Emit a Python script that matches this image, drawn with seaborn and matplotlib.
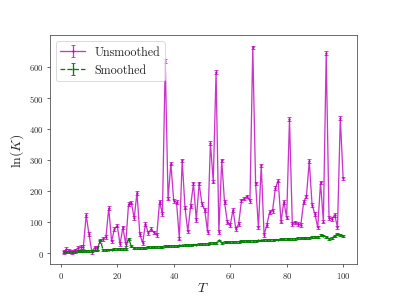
import numpy as np
import matplotlib
matplotlib.use("Agg")
import matplotlib.pyplot as plt
import seaborn as sns

# time steps
T = np.arange(1, 101)

# unsmoothed ln(K)
unsmoothed = [3, 12, 8, 4, 8, 15, 18, 18, 122, 60,
              4, 17, 17, 38, 45, 51, 144, 37, 77, 88,
              28, 82, 28, 157, 162, 112, 194, 60, 32, 94,
              64, 77, 66, 58, 165, 125, 618, 175, 288, 168,
              163, 46, 298, 146, 69, 152, 224, 106, 224, 158,
              138, 67, 354, 230, 582, 67, 298, 163, 100, 89,
              139, 77, 93, 169, 175, 182, 168, 662, 224, 82,
              282, 58, 91, 132, 136, 208, 233, 101, 165, 114,
              432, 93, 98, 93, 89, 163, 182, 296, 155, 125,
              82, 227, 101, 643, 112, 109, 123, 82, 434, 240]

# smoothed ln(K)
smoothed = [2, 3, 3, 4, 4, 5, 5, 6, 6, 7,
            7, 8, 8, 40, 10, 10, 11, 11, 12, 12,
            13, 13, 14, 46, 22, 15, 16, 16, 17, 17,
            18, 18, 19, 19, 20, 20, 21, 21, 22, 23,
            23, 24, 24, 25, 26, 26, 27, 27, 28, 29,
            29, 30, 31, 31, 32, 40, 33, 34, 34, 35,
            35, 36, 36, 37, 37, 38, 38, 39, 39, 40,
            40, 41, 41, 42, 42, 43, 43, 44, 44, 45,
            45, 46, 46, 47, 47, 48, 48, 49, 50, 51,
            52, 58, 56, 52, 46, 48, 54, 62, 58, 54]

err_unsmoothed = [6] * len(T)
err_smoothed = [3] * len(T)

sns.set_style("ticks")
plt.rcParams['font.family'] = ['cmr10', 'DejaVu Serif']
plt.rcParams['mathtext.fontset'] = 'cm'
plt.rcParams['axes.formatter.use_mathtext'] = True
plt.rcParams['axes.unicode_minus'] = False

fig, ax = plt.subplots(figsize=(6.4, 4.8), dpi=62)

ax.errorbar(T, unsmoothed, yerr=err_unsmoothed, color='m', alpha=0.8,
            marker='.', markersize=3, capsize=2, linewidth=1.5,
            label='Unsmoothed')
ax.errorbar(T, smoothed, yerr=err_smoothed, color='g', linestyle='--',
            marker='.', markersize=3, capsize=2, linewidth=1.5,
            label='Smoothed')

ax.set_xlabel(r'$T$', fontsize=16, labelpad=1)
ax.set_ylabel(r'$\ln(K)$', fontsize=16)
ax.set_xticks([0, 20, 40, 60, 80, 100])
ax.set_yticks([0, 100, 200, 300, 400, 500, 600])
ax.tick_params(labelsize=10)
for s in ax.spines.values():
    s.set_color('#333333')
ax.legend(loc='upper left', fontsize=14)

fig.subplots_adjust(left=0.125, right=0.9, top=0.88, bottom=0.11)
fig.savefig('out.png', dpi=62)
